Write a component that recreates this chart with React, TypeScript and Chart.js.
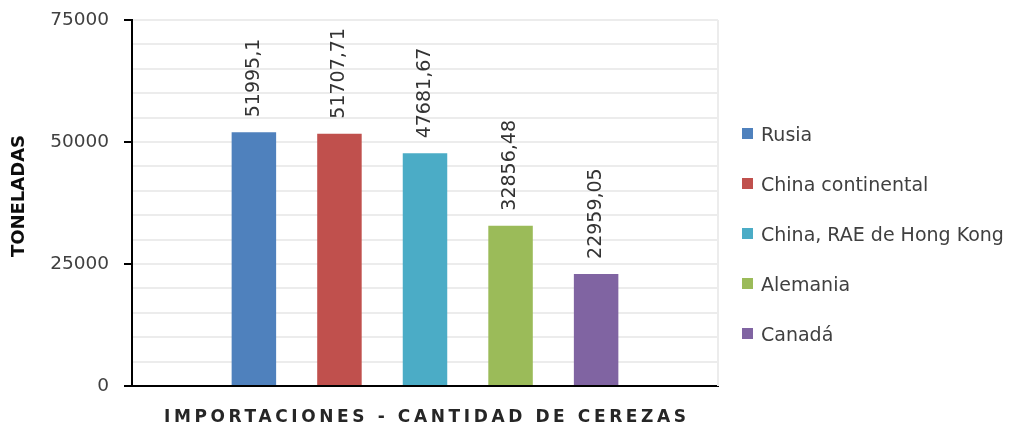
import React, { useEffect, useRef } from 'react';
import { Chart, registerables } from 'chart.js';

Chart.register(...registerables);

const categories = [''];
const seriesNames = ['Rusia', 'China continental', 'China, RAE de Hong Kong', 'Alemania', 'Canadá'];
const seriesValues = [51995.1, 51707.71, 47681.67, 32856.48, 22959.05];
const seriesColors = ['#4F81BD', '#C0504D', '#4BACC6', '#9BBB59', '#8064A2'];
const yMin = 0;
const yMax = 75000;
const yMinorStep = 5000;
const yMajorStep = 25000;
const yTitle = 'TONELADAS';
const xTitle = 'IMPORTACIONES - CANTIDAD DE CEREZAS';

const FONT = 'DejaVu Sans';

const formatValue = (v: number) => String(v).replace('.', ',');

const extrasPlugin = {
  id: 'extras',
  afterDatasetsDraw(chart: any) {
    const ctx = chart.ctx;
    ctx.save();
    ctx.font = `19px "${FONT}"`;
    ctx.fillStyle = '#333333';
    ctx.textAlign = 'left';
    ctx.textBaseline = 'middle';
    chart.data.datasets.forEach((ds: any, i: number) => {
      const meta = chart.getDatasetMeta(i);
      const el = meta.data[0];
      if (!el) return;
      ctx.save();
      ctx.translate(el.x, el.y - 15);
      ctx.rotate(-Math.PI / 2);
      ctx.fillText(formatValue(ds.data[0]), 0, 0);
      ctx.restore();
    });
    ctx.restore();
  },
  afterDraw(chart: any) {
    const ctx = chart.ctx;
    const area = chart.chartArea;
    ctx.save();
    // right border of plot
    ctx.strokeStyle = '#ececec';
    ctx.lineWidth = 2;
    ctx.beginPath();
    ctx.moveTo(area.right, area.top);
    ctx.lineTo(area.right, area.bottom);
    ctx.stroke();

    // legend
    ctx.font = `19px "${FONT}"`;
    ctx.textAlign = 'left';
    ctx.textBaseline = 'alphabetic';
    seriesNames.forEach((name, i) => {
      const cy = area.top + 114 + i * 50;
      ctx.fillStyle = seriesColors[i];
      ctx.fillRect(area.right + 24, cy - 6, 11, 11);
      ctx.fillStyle = '#404040';
      ctx.fillText(name, area.right + 43, cy + 7);
    });

    // y title
    ctx.save();
    ctx.font = `bold 18px "${FONT}"`;
    ctx.fillStyle = '#0d0d0d';
    ctx.textAlign = 'center';
    ctx.textBaseline = 'middle';
    ctx.translate(19, area.top + 176);
    ctx.rotate(-Math.PI / 2);
    ctx.fillText(yTitle, 0, 0);
    ctx.restore();

    // x title with letter spacing
    ctx.font = `bold 17px "${FONT}"`;
    ctx.fillStyle = '#262626';
    (ctx as any).letterSpacing = '0px';
    const w0 = ctx.measureText(xTitle).width;
    const target = 522;
    const sp = (target - w0) / (xTitle.length - 1);
    (ctx as any).letterSpacing = `${sp}px`;
    ctx.textAlign = 'left';
    const cx = (area.left + area.right) / 2;
    ctx.fillText(xTitle, cx - target / 2, area.bottom + 36);
    ctx.restore();
  },
};

export default function App() {
  const ref = useRef<HTMLCanvasElement | null>(null);

  useEffect(() => {
    document.body.style.margin = '0';
    const canvas = ref.current;
    if (!canvas) return;
    const chart = new Chart(canvas, {
      type: 'bar',
      data: {
        labels: categories,
        datasets: seriesNames.map((name, i) => ({
          label: name,
          data: [seriesValues[i]],
          backgroundColor: seriesColors[i],
          borderWidth: 0,
          categoryPercentage: 0.73,
          barPercentage: 0.52,
        })),
      },
      options: {
        responsive: false,
        animation: false,
        devicePixelRatio: 1,
        layout: { padding: { top: 20, right: 292, left: 0, bottom: 0 } },
        plugins: {
          legend: { display: false },
          tooltip: { enabled: false },
        },
        scales: {
          x: {
            type: 'category',
            ticks: { display: false },
            grid: { display: false },
            border: { display: true, color: '#000000', width: 2 },
            afterFit: (scale: any) => {
              scale.height = 42;
            },
          },
          y: {
            min: yMin,
            max: yMax,
            afterFit: (scale: any) => {
              scale.width = 132;
              scale.paddingTop = 0;
              scale.paddingBottom = 0;
            },
            ticks: {
              stepSize: yMinorStep,
              autoSkip: false,
              padding: 15,
              color: '#404040',
              font: { family: FONT, size: 18.5 },
              callback: (v: any) => (Number(v) % yMajorStep === 0 ? String(v) : ''),
            },
            grid: {
              color: (c: any) => (c.tick && c.tick.value === 0 ? 'rgba(0,0,0,0)' : '#ececec'),
              lineWidth: 2,
              tickLength: 8,
              tickWidth: 2,
              tickColor: (c: any) =>
                c.tick && c.tick.value % yMajorStep === 0 ? '#000000' : 'rgba(0,0,0,0)',
            },
            border: { display: true, color: '#000000', width: 2 },
            title: { display: false },
          },
        },
      },
      plugins: [extrasPlugin],
    } as any);
    return () => chart.destroy();
  }, []);

  return <canvas ref={ref} width={1010} height={428} style={{ display: 'block' }} />;
}
